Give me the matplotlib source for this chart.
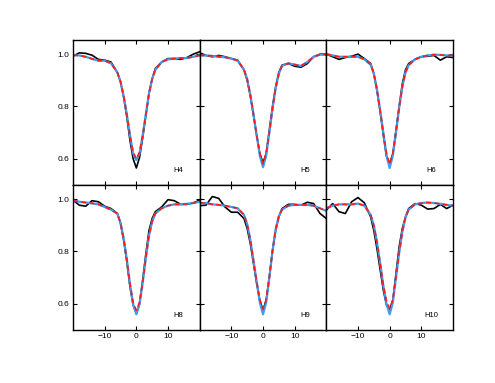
import numpy as np
import matplotlib
matplotlib.use("Agg")
import matplotlib.pyplot as plt

plt.rcParams['font.family'] = ['Liberation Sans', 'DejaVu Sans']

# velocity grid (km/s) shared by all panels
vel = [-20, -18, -16, -14, -12, -10, -8, -6, -5, -4, -3, -2, -1, 0,
       1, 2, 3, 4, 5, 6, 8, 10, 12, 14, 16, 18, 20]

names = ['H4', 'H5', 'H6', 'H8', 'H9', 'H10']

# observed profiles (black)
obs_h4 = [0.992, 1.005, 1.003, 0.996, 0.980, 0.977, 0.970, 0.930, 0.894, 0.836, 0.760, 0.670, 0.600, 0.565,
          0.605, 0.680, 0.765, 0.850, 0.906, 0.945, 0.970, 0.983, 0.983, 0.980, 0.987, 1.000, 1.009]
obs_h5 = [1.005, 0.995, 0.990, 0.995, 0.990, 0.983, 0.977, 0.940, 0.900, 0.840, 0.765, 0.690, 0.620, 0.585,
          0.620, 0.710, 0.800, 0.875, 0.930, 0.958, 0.964, 0.954, 0.950, 0.964, 0.990, 1.000, 1.000]
obs_h6 = [1.000, 0.990, 0.980, 0.987, 0.992, 1.000, 0.983, 0.964, 0.926, 0.860, 0.780, 0.690, 0.610, 0.580,
          0.620, 0.710, 0.800, 0.887, 0.940, 0.964, 0.980, 0.990, 0.992, 0.995, 0.977, 0.990, 0.987]
obs_h8 = [0.996, 0.977, 0.973, 0.994, 0.990, 0.973, 0.964, 0.945, 0.907, 0.843, 0.760, 0.665, 0.595, 0.563,
          0.600, 0.690, 0.790, 0.880, 0.926, 0.952, 0.970, 0.998, 0.994, 0.980, 0.980, 0.986, 0.996]
obs_h9 = [0.975, 0.977, 1.010, 1.003, 0.970, 0.950, 0.950, 0.926, 0.888, 0.830, 0.754, 0.678, 0.614, 0.576,
          0.614, 0.703, 0.805, 0.880, 0.932, 0.964, 0.980, 0.980, 0.977, 0.988, 0.983, 0.945, 0.926]
obs_h10 = [0.958, 0.983, 0.952, 0.945, 0.990, 1.006, 0.986, 0.932, 0.880, 0.810, 0.730, 0.652, 0.595, 0.576,
           0.614, 0.716, 0.818, 0.888, 0.932, 0.964, 0.983, 0.977, 0.962, 0.964, 0.980, 0.964, 0.977]

# model fits (red)
fit_h4 = [0.996, 0.995, 0.990, 0.982, 0.975, 0.975, 0.965, 0.930, 0.895, 0.840, 0.770, 0.690, 0.625, 0.600,
          0.625, 0.690, 0.770, 0.850, 0.905, 0.940, 0.970, 0.980, 0.983, 0.985, 0.985, 0.990, 0.995]
fit_h5 = [0.995, 0.995, 0.993, 0.990, 0.988, 0.983, 0.975, 0.940, 0.905, 0.845, 0.770, 0.690, 0.620, 0.580,
          0.620, 0.700, 0.790, 0.870, 0.925, 0.955, 0.965, 0.960, 0.955, 0.970, 0.990, 0.998, 0.998]
fit_h6 = [1.000, 0.995, 0.990, 0.990, 0.990, 0.990, 0.980, 0.960, 0.925, 0.865, 0.785, 0.700, 0.620, 0.580,
          0.620, 0.700, 0.795, 0.875, 0.930, 0.958, 0.980, 0.990, 0.995, 0.998, 0.997, 0.995, 0.995]
fit_h8 = [0.995, 0.990, 0.987, 0.984, 0.980, 0.970, 0.960, 0.945, 0.910, 0.850, 0.770, 0.675, 0.605, 0.575,
          0.605, 0.680, 0.775, 0.860, 0.915, 0.945, 0.965, 0.975, 0.980, 0.980, 0.982, 0.985, 0.990]
fit_h9 = [0.985, 0.985, 0.980, 0.978, 0.975, 0.970, 0.965, 0.940, 0.905, 0.845, 0.765, 0.685, 0.615, 0.580,
          0.615, 0.700, 0.800, 0.885, 0.935, 0.960, 0.975, 0.978, 0.978, 0.978, 0.975, 0.965, 0.955]
fit_h10 = [0.965, 0.975, 0.980, 0.980, 0.980, 0.983, 0.975, 0.940, 0.900, 0.835, 0.755, 0.670, 0.610, 0.582,
           0.615, 0.700, 0.795, 0.875, 0.930, 0.960, 0.980, 0.985, 0.987, 0.985, 0.982, 0.978, 0.975]

# second model (blue), same as red except a slightly deeper core
alt_h4 = fit_h4[:12] + [0.620, 0.595, 0.620] + fit_h4[15:]
alt_h5 = fit_h5[:12] + [0.612, 0.568, 0.612] + fit_h5[15:]
alt_h6 = fit_h6[:12] + [0.612, 0.565, 0.612] + fit_h6[15:]
alt_h8 = fit_h8[:12] + [0.598, 0.560, 0.598] + fit_h8[15:]
alt_h9 = fit_h9[:12] + [0.605, 0.560, 0.605] + fit_h9[15:]
alt_h10 = fit_h10[:12] + [0.600, 0.560, 0.605] + fit_h10[15:]

obs = [obs_h4, obs_h5, obs_h6, obs_h8, obs_h9, obs_h10]
fits = [fit_h4, fit_h5, fit_h6, fit_h8, fit_h9, fit_h10]
alts = [alt_h4, alt_h5, alt_h6, alt_h8, alt_h9, alt_h10]

fig, axes = plt.subplots(2, 3, figsize=(4.95, 3.83), dpi=100, sharex=True, sharey=True)
fig.subplots_adjust(left=73/495, right=453/495, top=1-40/383, bottom=1-330/383,
                    wspace=0, hspace=0)

for i, ax in enumerate(axes.flat):
    ax.plot(vel, obs[i], color='black', lw=1.2)
    ax.plot(vel, alts[i], color='#3d9df2', lw=1.6)
    ax.plot(vel, fits[i], color='#ff1a1a', lw=1.2, ls=(0, (3, 2)))
    ax.text(13.2, 0.556, names[i], ha='center', va='center', fontsize=5.5)
    ax.set_xlim(-20, 20)
    ax.set_ylim(0.5, 1.054)
    ax.set_xticks([-10, 0, 10])
    ax.set_yticks([0.6, 0.8, 1.0])
    ax.tick_params(direction='in', top=True, right=True, length=3, width=0.8,
                   labelsize=6, pad=2.5)
    for s in ax.spines.values():
        s.set_linewidth(1.0)

axes[0, 0].set_yticklabels(['0.6', '0.8', '1.0'])
axes[1, 0].set_xticklabels(['\u221210', '0', '10'])

fig.savefig('out.png', dpi=100)
